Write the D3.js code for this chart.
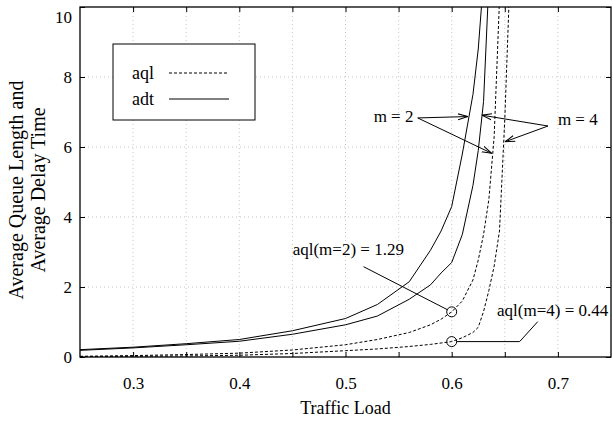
<!DOCTYPE html>
<html>
<head>
<meta charset="utf-8">
<script src="https://cdn.jsdelivr.net/npm/d3@7/dist/d3.min.js"></script>
<style>
body { margin: 0; background: #fff; }
svg text { font-family: "Liberation Serif", "Times New Roman", serif; fill: #000; }
</style>
</head>
<body>
<div id="chart"></div>
<script>
// traffic load samples shared by all four curves (null = off the top of the plot)
var loads = [0.25, 0.3, 0.35, 0.4, 0.45, 0.5, 0.53, 0.56, 0.58, 0.59, 0.6, 0.61, 0.62, 0.625, 0.63, 0.635, 0.64, 0.645, 0.65, 0.655];
var adtM2 = [0.21, 0.28, 0.38, 0.5, 0.75, 1.1, 1.5, 2.15, 3.05, 3.6, 4.3, 5.8, 7.5, 8.8, 10.8, null, null, null, null, null];
var adtM4 = [0.19, 0.26, 0.35, 0.45, 0.65, 0.92, 1.17, 1.65, 2.06, 2.4, 2.7, 3.5, 4.9, 5.9, 7.3, 10.7, null, null, null, null];
var aqlM2 = [0.02, 0.04, 0.07, 0.11, 0.2, 0.35, 0.5, 0.7, 0.92, 1.08, 1.29, 1.6, 2.2, 2.77, 3.5, 4.5, 6.3, 10.2, null, null];
var aqlM4 = [0.01, 0.02, 0.03, 0.05, 0.1, 0.18, 0.23, 0.3, 0.36, 0.4, 0.44, 0.55, 0.7, 0.85, 1.3, 1.9, 2.6, 3.6, 6.8, 11];

var xTickLabels = [0.3, 0.4, 0.5, 0.6, 0.7];
var yTickLabels = [0, 2, 4, 6, 8, 10];
var seriesNames = ["aql", "adt"];

var width = 613, height = 421;
var margin = {top: 7, right: 2, bottom: 64, left: 80};

var x = d3.scaleLinear().domain([0.25, 0.75]).range([margin.left, width - margin.right]);
var y = d3.scaleLinear().domain([0, 10]).range([height - margin.bottom, margin.top]);

var svg = d3.select("#chart").append("svg")
    .attr("width", width)
    .attr("height", height);

svg.append("defs").append("clipPath")
    .attr("id", "plot")
    .append("rect")
    .attr("x", margin.left)
    .attr("y", margin.top)
    .attr("width", x.range()[1] - x.range()[0])
    .attr("height", y.range()[0] - y.range()[1]);

var marker = svg.select("defs").append("marker")
    .attr("id", "head")
    .attr("viewBox", "0 -5 10 10")
    .attr("refX", 10)
    .attr("refY", 0)
    .attr("markerWidth", 10)
    .attr("markerHeight", 10)
    .attr("markerUnits", "userSpaceOnUse")
    .attr("orient", "auto");
marker.append("path")
    .attr("d", "M0,-3L10,0L0,3")
    .attr("fill", "none")
    .attr("stroke", "#000")
    .attr("stroke-width", 1);

// dotted grid
var xMinor = x.ticks(10).filter(function (d) { return d > 0.26 && d < 0.74; });
var yInner = yTickLabels.filter(function (d) { return d > 0 && d < 10; });

svg.append("g").selectAll("line")
    .data(xMinor)
    .enter().append("line")
    .attr("x1", function (d) { return x(d); })
    .attr("x2", function (d) { return x(d); })
    .attr("y1", y(0))
    .attr("y2", y(10))
    .attr("stroke", "#c8c8c8")
    .attr("stroke-dasharray", "1,3");

svg.append("g").selectAll("line")
    .data(yInner)
    .enter().append("line")
    .attr("x1", x(0.25))
    .attr("x2", x(0.75))
    .attr("y1", function (d) { return y(d); })
    .attr("y2", function (d) { return y(d); })
    .attr("stroke", "#c8c8c8")
    .attr("stroke-dasharray", "1,3");

// axes with inward ticks
function styleAxis(g) {
    g.attr("font-family", null).attr("font-size", null);
    g.select(".domain").remove();
    g.selectAll("line").attr("stroke", "#000");
    g.selectAll("text")
        .attr("font-family", "Liberation Serif, serif")
        .attr("font-size", 17);
}

var fmt = function (d) {
    return xTickLabels.some(function (v) { return Math.abs(v - d) < 1e-9; }) ? d3.format(".1f")(d) : "";
};

svg.append("g")
    .attr("transform", "translate(0," + y(0) + ")")
    .call(d3.axisBottom(x).tickValues(xMinor).tickSize(-5).tickPadding(20).tickFormat(fmt))
    .call(styleAxis);

svg.append("g")
    .attr("transform", "translate(0," + y(10) + ")")
    .call(d3.axisTop(x).tickValues(xMinor).tickSize(-5).tickFormat(""))
    .call(styleAxis);

var yAxis = svg.append("g")
    .attr("transform", "translate(" + x(0.25) + ",0)")
    .call(d3.axisLeft(y).tickValues(yTickLabels).tickSize(-5).tickPadding(8).tickFormat(d3.format("d")))
    .call(styleAxis);
// top label sits a little lower, as in the original
yAxis.selectAll(".tick text").filter(function (d) { return d == 10; }).attr("y", 10);

svg.append("g")
    .attr("transform", "translate(" + x(0.75) + ",0)")
    .call(d3.axisRight(y).tickValues(yTickLabels).tickSize(-5).tickFormat(""))
    .call(styleAxis);

// curves
var line = d3.line()
    .defined(function (d) { return d[1] != null; })
    .x(function (d) { return x(d[0]); })
    .y(function (d) { return y(d[1]); });

var curves = [
    {values: adtM2, dash: null},
    {values: adtM4, dash: null},
    {values: aqlM2, dash: "3,2"},
    {values: aqlM4, dash: "3,2"}
];

svg.append("g")
    .attr("clip-path", "url(#plot)")
    .selectAll("path")
    .data(curves)
    .enter().append("path")
    .attr("d", function (c) { return line(d3.zip(loads, c.values)); })
    .attr("fill", "none")
    .attr("stroke", "#000")
    .attr("stroke-width", 1)
    .attr("stroke-dasharray", function (c) { return c.dash; });

// frame
svg.append("rect")
    .attr("x", x(0.25))
    .attr("y", y(10))
    .attr("width", x(0.75) - x(0.25))
    .attr("height", y(0) - y(10))
    .attr("fill", "none")
    .attr("stroke", "#000")
    .attr("stroke-width", 1.3);

// legend
var legend = svg.append("g").attr("transform", "translate(113,44)");
legend.append("rect")
    .attr("width", 142)
    .attr("height", 76)
    .attr("fill", "#fff")
    .attr("stroke", "#000");
var item = legend.selectAll(".item")
    .data(seriesNames)
    .enter().append("g")
    .attr("transform", function (d, i) { return "translate(0," + (29 + i * 26) + ")"; });
item.append("text")
    .attr("x", 19)
    .attr("dy", ".32em")
    .style("font-size", "18px")
    .text(function (d) { return d; });
item.append("line")
    .attr("x1", 56)
    .attr("x2", 116)
    .attr("stroke", "#000")
    .attr("stroke-dasharray", function (d) { return d == "aql" ? "3,2" : null; });

// annotations (data coordinates)
function arrow(x1, y1, x2, y2) {
    svg.append("line")
        .attr("x1", x(x1)).attr("y1", y(y1))
        .attr("x2", x(x2)).attr("y2", y(y2))
        .attr("stroke", "#000")
        .attr("marker-end", "url(#head)");
}
function label(t, lx, ly, anchor) {
    svg.append("text")
        .attr("x", x(lx))
        .attr("y", y(ly))
        .attr("dy", ".32em")
        .attr("text-anchor", anchor)
        .style("font-size", "17px")
        .text(t);
}

label("m = 2", 0.564, 6.86, "end");
arrow(0.568, 6.83, 0.6153, 6.87);
arrow(0.568, 6.83, 0.6377, 5.82);

label("m = 4", 0.70, 6.77, "start");
arrow(0.6907, 6.6, 0.6283, 6.91);
arrow(0.6907, 6.6, 0.6502, 6.15);

var marks = [[0.6, aqlM2[loads.indexOf(0.6)]], [0.6, aqlM4[loads.indexOf(0.6)]]];
svg.append("g").selectAll("circle")
    .data(marks)
    .enter().append("circle")
    .attr("cx", function (d) { return x(d[0]); })
    .attr("cy", function (d) { return y(d[1]); })
    .attr("r", 5)
    .attr("fill", "none")
    .attr("stroke", "#000");

label("aql(m=2) = 1.29", 0.555, 3.06, "end");
svg.append("line")
    .attr("x1", x(0.517)).attr("y1", y(2.58))
    .attr("x2", x(0.6) - 4).attr("y2", y(1.29) - 2)
    .attr("stroke", "#000");

label("aql(m=4) = 0.44", 0.6427, 1.34, "start");
svg.append("polyline")
    .attr("points", [[x(0.6) + 5, y(0.44)], [x(0.664), y(0.44)], [x(0.681), y(1.01)]].join(" "))
    .attr("fill", "none")
    .attr("stroke", "#000");

// axis titles
svg.append("text")
    .attr("x", (x(0.25) + x(0.75)) / 2)
    .attr("y", 414)
    .attr("text-anchor", "middle")
    .style("font-size", "18px")
    .text("Traffic Load");

var yTitle = svg.append("text")
    .attr("transform", "translate(23,190) rotate(-90)")
    .attr("text-anchor", "middle")
    .style("font-size", "20px");
yTitle.append("tspan").attr("x", 0).attr("dy", 0).text("Average Queue Length and");
yTitle.append("tspan").attr("x", 0).attr("dy", 22).text("Average Delay Time");
</script>
</body>
</html>
